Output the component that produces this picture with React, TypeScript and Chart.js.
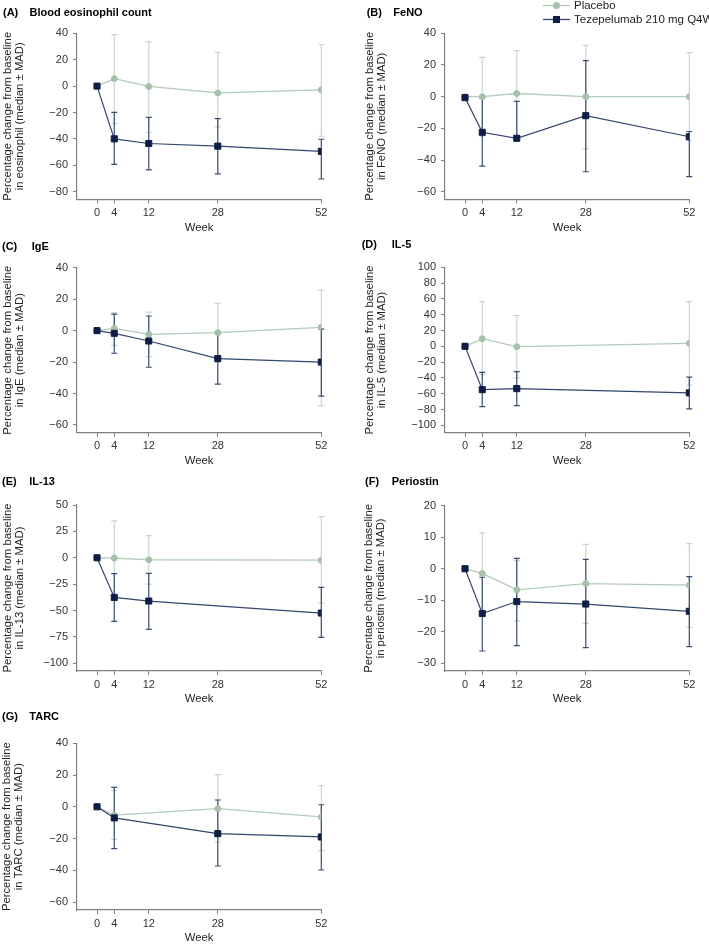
import React, { useEffect, useRef } from 'react';
import { Chart, registerables } from 'chart.js';

Chart.register(...registerables);

const FONT = '"Liberation Sans", Arial, Helvetica, sans-serif';

// ---------- Data ----------
const WEEKS = [0, 4, 12, 28, 52];
const WEEK_TICKS = [0, 4, 12, 28, 52];
const SERIES_NAMES = ['Placebo', 'Tezepelumab 210 mg Q4W'];

// (A) Blood eosinophil count
const eosPlacebo = [0, 5.6, -0.3, -5.2, -2.8];
const eosPlaceboLow = [null, -28.5, -35, -31, -38];
const eosPlaceboHigh = [null, 39, 33.5, 25.5, 31.5];
const eosTeze = [0, -40, -43.5, -45.5, -49.5];
const eosTezeLow = [null, -59.3, -63.5, -66.6, -70.4];
const eosTezeHigh = [null, -20, -23.7, -24.7, -40.3];
const eosTicks = [40, 20, 0, -20, -40, -60, -80];

// (B) FeNO
const fenoPlacebo = [0, 0, 2, 0, 0];
const fenoPlaceboLow = [null, -25, -25, -33, -27.8];
const fenoPlaceboHigh = [null, 24.8, 29, 32.4, 27.8];
const fenoTeze = [-0.6, -22.5, -26.3, -12, -25.3];
const fenoTezeLow = [null, -43.8, -27, -47.4, -50.5];
const fenoTezeHigh = [null, -1, -3, 22.7, -22];
const fenoTicks = [40, 20, 0, -20, -40, -60];

// (C) IgE
const igePlacebo = [0, 1.4, -2.4, -1.3, 2.1];
const igePlaceboLow = [null, -9.4, -16.5, -20, -47.7];
const igePlaceboHigh = [null, 11.4, 11.8, 17.3, 25.8];
const igeTeze = [0, -1.7, -6.6, -17.8, -20];
const igeTezeLow = [null, -14.4, -23.3, -34, -41.6];
const igeTezeHigh = [null, 10.5, 9.3, -2, 1];
const igeTicks = [40, 20, 0, -20, -40, -60];

// (D) IL-5 (no week 28 sample)
const il5Placebo = [0, 9.7, -0.5, null, 3.8];
const il5PlaceboLow = [null, -36, -40, null, -49];
const il5PlaceboHigh = [null, 56.5, 39, null, 56.5];
const il5Teze = [0, -54.9, -53.6, null, -59];
const il5TezeLow = [null, -76.4, -75, null, -79.3];
const il5TezeHigh = [null, -33, -32, null, -39];
const il5Ticks = [100, 80, 60, 40, 20, 0, -20, -40, -60, -80, -100];

// (E) IL-13 (no week 28 sample)
const il13Placebo = [0, -0.3, -1.9, null, -2.3];
const il13PlaceboLow = [null, -35, -25, null, -43];
const il13PlaceboHigh = [null, 35, 21, null, 39];
const il13Teze = [0, -37.6, -41, null, -52.4];
const il13TezeLow = [null, -60.3, -67.9, null, -75.4];
const il13TezeHigh = [null, -15, -14.8, null, -28];
const il13Ticks = [50, 25, 0, -25, -50, -75, -100];

// (F) Periostin
const perPlacebo = [0, -1.5, -6.7, -4.7, -5.2];
const perPlaceboLow = [null, -14.4, -16.6, -17.3, -18.6];
const perPlaceboHigh = [null, 11.4, 2.6, 7.7, 8];
const perTeze = [0, -14.2, -10.4, -11.2, -13.5];
const perTezeLow = [null, -26.1, -24.4, -25, -24.7];
const perTezeHigh = [null, -2.7, 3.3, 3, -2.5];
const perTicks = [20, 10, 0, -10, -20, -30];

// (G) TARC (no week 12 sample)
const tarcPlacebo = [0, -5.2, null, -1.2, -6.4];
const tarcPlaceboLow = [null, -20.5, null, -22.2, -27.6];
const tarcPlaceboHigh = [null, 10.3, null, 20.3, 13.4];
const tarcTeze = [0, -7, null, -16.9, -19];
const tarcTezeLow = [null, -26.4, null, -37.3, -39.8];
const tarcTezeHigh = [null, 12.3, null, 4.3, 1.3];
const tarcTicks = [40, 20, 0, -20, -40, -60];

// ---------- Styles ----------
const PLACEBO_COLOR = '#a6c1ab';
const PLACEBO_LINE = '#b3cbb7';
const PLACEBO_ERR = '#c6d7ca';
const TEZE_COLOR = '#0f1e45';
const TEZE_LINE = '#34466e';
const TEZE_ERR = '#3b4c72';
const AXIS_COLOR = '#808080';
const TICK_TEXT = '#333333';

type Panel = {
  letter: string;
  name: string;
  yTitle2: string;
  ticks: number[];
  yMin: number;
  yMax: number;
  placebo: (number | null)[];
  placeboLow: (number | null)[];
  placeboHigh: (number | null)[];
  teze: (number | null)[];
  tezeLow: (number | null)[];
  tezeHigh: (number | null)[];
  box: [number, number, number, number];
  area: [number, number, number, number];
  yTitleX: number;
  weekY: number;
  letterX: number;
  nameX: number;
  titleY: number;
  legend?: boolean;
};

const PANELS: Panel[] = [
  {
    letter: '(A)', name: 'Blood eosinophil count', yTitle2: 'in eosinophil (median ± MAD)',
    ticks: eosTicks, yMin: -85.8, yMax: 40,
    placebo: eosPlacebo, placeboLow: eosPlaceboLow, placeboHigh: eosPlaceboHigh,
    teze: eosTeze, tezeLow: eosTezeLow, tezeHigh: eosTezeHigh,
    box: [0, 0, 354, 240], area: [77, 33.3, 321.3, 199.3],
    yTitleX: 7.5, weekY: 228, letterX: 3, nameX: 29.5, titleY: 12.7,
  },
  {
    letter: '(B)', name: 'FeNO', yTitle2: 'in FeNO (median ± MAD)',
    ticks: fenoTicks, yMin: -64.8, yMax: 40,
    placebo: fenoPlacebo, placeboLow: fenoPlaceboLow, placeboHigh: fenoPlaceboHigh,
    teze: fenoTeze, tezeLow: fenoTezeLow, tezeHigh: fenoTezeHigh,
    box: [354, 0, 355, 240], area: [445, 33.3, 689.3, 199.3],
    yTitleX: 370, weekY: 228, letterX: 366.7, nameX: 393.3, titleY: 13.3, legend: true,
  },
  {
    letter: '(C)', name: 'IgE', yTitle2: 'in IgE (median ± MAD)',
    ticks: igeTicks, yMin: -64.9, yMax: 40,
    placebo: igePlacebo, placeboLow: igePlaceboLow, placeboHigh: igePlaceboHigh,
    teze: igeTeze, tezeLow: igeTezeLow, tezeHigh: igeTezeHigh,
    box: [0, 236, 354, 236], area: [77, 267.7, 321.3, 432.7],
    yTitleX: 7.5, weekY: 461, letterX: 2, nameX: 31.7, titleY: 246.7,
  },
  {
    letter: '(D)', name: 'IL-5', yTitle2: 'in IL-5 (median ± MAD)',
    ticks: il5Ticks, yMin: -109.4, yMax: 100,
    placebo: il5Placebo, placeboLow: il5PlaceboLow, placeboHigh: il5PlaceboHigh,
    teze: il5Teze, tezeLow: il5TezeLow, tezeHigh: il5TezeHigh,
    box: [354, 236, 355, 236], area: [445, 267.3, 689.3, 432.7],
    yTitleX: 370, weekY: 461, letterX: 361.7, nameX: 391.7, titleY: 245,
  },
  {
    letter: '(E)', name: 'IL-13', yTitle2: 'in IL-13 (median ± MAD)',
    ticks: il13Ticks, yMin: -107.3, yMax: 50,
    placebo: il13Placebo, placeboLow: il13PlaceboLow, placeboHigh: il13PlaceboHigh,
    teze: il13Teze, tezeLow: il13TezeLow, tezeHigh: il13TezeHigh,
    box: [0, 466, 354, 244], area: [77, 505, 321.3, 671],
    yTitleX: 7.5, weekY: 699, letterX: 2, nameX: 29.3, titleY: 481.7,
  },
  {
    letter: '(F)', name: 'Periostin', yTitle2: 'in periostin (median ± MAD)',
    ticks: perTicks, yMin: -32.44, yMax: 20,
    placebo: perPlacebo, placeboLow: perPlaceboLow, placeboHigh: perPlaceboHigh,
    teze: perTeze, tezeLow: perTezeLow, tezeHigh: perTezeHigh,
    box: [354, 466, 355, 244], area: [445, 505.7, 689.3, 671],
    yTitleX: 368.5, weekY: 699, letterX: 365, nameX: 391.7, titleY: 481.7,
  },
  {
    letter: '(G)', name: 'TARC', yTitle2: 'in TARC (median ± MAD)',
    ticks: tarcTicks, yMin: -65, yMax: 40,
    placebo: tarcPlacebo, placeboLow: tarcPlaceboLow, placeboHigh: tarcPlaceboHigh,
    teze: tarcTeze, tezeLow: tarcTezeLow, tezeHigh: tarcTezeHigh,
    box: [0, 703, 354, 243], area: [77, 743.3, 321.3, 910],
    yTitleX: 7, weekY: 938.3, letterX: 2, nameX: 29.3, titleY: 717.3,
  },
];

const fmt = (v: number) => (v < 0 ? '\u2212' + Math.abs(v) : String(v));

function buildPoints(med: (number | null)[], lo: (number | null)[], hi: (number | null)[]) {
  const pts: any[] = [];
  WEEKS.forEach((w, i) => {
    if (med[i] === null || med[i] === undefined) return;
    pts.push({ x: w, y: med[i], lo: lo[i], hi: hi[i] });
  });
  return pts;
}

const errorBarPlugin = {
  id: 'errorBars',
  beforeDatasetsDraw(chart: any) {
    const ctx = chart.ctx;
    const xs = chart.scales.x;
    const ys = chart.scales.y;
    const n = chart.data.datasets.length;
    for (let d = n - 1; d >= 0; d--) {
      const ds = chart.data.datasets[d];
      ctx.save();
      ctx.strokeStyle = ds.errColor;
      ctx.lineWidth = 1.2;
      ds.data.forEach((p: any) => {
        if (p.lo === null || p.lo === undefined || p.hi === null || p.hi === undefined) return;
        const x = xs.getPixelForValue(p.x);
        const y1 = ys.getPixelForValue(p.hi);
        const y2 = ys.getPixelForValue(p.lo);
        ctx.beginPath();
        ctx.moveTo(x, y1);
        ctx.lineTo(x, y2);
        ctx.moveTo(x - 3, y1);
        ctx.lineTo(x + 3, y1);
        ctx.moveTo(x - 3, y2);
        ctx.lineTo(x + 3, y2);
        ctx.stroke();
      });
      ctx.restore();
    }
  },
};

function PanelChart({ p }: { p: Panel }) {
  const ref = useRef<HTMLCanvasElement | null>(null);
  useEffect(() => {
    if (!ref.current) return;
    const [bx, by, bw, bh] = p.box;
    const [al, at, ar, ab] = p.area;
    const lh = 12;
    const decor = {
      id: 'decor',
      afterDraw(chart: any) {
        const ctx = chart.ctx;
        ctx.save();
        ctx.font = `bold 11px ${FONT}`;
        ctx.fillStyle = '#000';
        ctx.textBaseline = 'middle';
        ctx.textAlign = 'left';
        ctx.fillText(p.letter, p.letterX - bx, p.titleY - by);
        ctx.fillText(p.name, p.nameX - bx, p.titleY - by);
        if (p.legend) {
          const entries = [
            { y: 5.5, color: PLACEBO_COLOR, line: PLACEBO_LINE, shape: 'circle', label: SERIES_NAMES[0] },
            { y: 19.5, color: TEZE_COLOR, line: TEZE_LINE, shape: 'square', label: SERIES_NAMES[1] },
          ];
          entries.forEach((e) => {
            ctx.strokeStyle = e.line;
            ctx.lineWidth = 1.3;
            ctx.beginPath();
            ctx.moveTo(543 - bx, e.y);
            ctx.lineTo(570 - bx, e.y);
            ctx.stroke();
            ctx.fillStyle = e.color;
            if (e.shape === 'circle') {
              ctx.beginPath();
              ctx.arc(556.5 - bx, e.y, 3.5, 0, Math.PI * 2);
              ctx.fill();
            } else {
              ctx.fillRect(556.5 - bx - 3.5, e.y - 3.5, 7, 7);
            }
            ctx.fillStyle = '#222';
            ctx.font = `11.5px ${FONT}`;
            ctx.fillText(e.label, 574 - bx, e.y + 0.5);
          });
        }
        ctx.restore();
      },
    };
    const chart = new Chart(ref.current, {
      type: 'line',
      data: {
        datasets: [
          {
            label: SERIES_NAMES[1],
            data: buildPoints(p.teze, p.tezeLow, p.tezeHigh),
            borderColor: TEZE_LINE,
            backgroundColor: TEZE_COLOR,
            pointBackgroundColor: TEZE_COLOR,
            pointBorderColor: TEZE_COLOR,
            pointStyle: 'rect',
            pointRadius: 4.3,
            pointBorderWidth: 1,
            borderWidth: 1.2,
            tension: 0,
            errColor: TEZE_ERR,
          } as any,
          {
            label: SERIES_NAMES[0],
            data: buildPoints(p.placebo, p.placeboLow, p.placeboHigh),
            borderColor: PLACEBO_LINE,
            backgroundColor: PLACEBO_COLOR,
            pointBackgroundColor: PLACEBO_COLOR,
            pointBorderColor: PLACEBO_COLOR,
            pointStyle: 'circle',
            pointRadius: 3,
            pointBorderWidth: 1,
            borderWidth: 1.3,
            tension: 0,
            errColor: PLACEBO_ERR,
          } as any,
        ],
      },
      options: {
        animation: false,
        responsive: false,
        maintainAspectRatio: false,
        events: [],
        layout: { padding: { left: 0, top: at - by, right: bx + bw - ar, bottom: 0 } },
        plugins: { legend: { display: false }, tooltip: { enabled: false }, title: { display: false } },
        scales: {
          x: {
            type: 'linear',
            min: -4.64,
            max: 52,
            afterBuildTicks: (s: any) => {
              s.ticks = WEEK_TICKS.map((v) => ({ value: v }));
            },
            afterFit: (s: any) => {
              s.height = by + bh - ab;
            },
            grid: { display: true, drawOnChartArea: false, drawTicks: true, tickLength: 4, color: AXIS_COLOR, lineWidth: 1 },
            border: { display: true, color: AXIS_COLOR, width: 1.2 },
            ticks: {
              autoSkip: false,
              maxRotation: 0,
              padding: 3,
              color: TICK_TEXT,
              font: { size: 11, family: FONT },
              callback: (v: any) => fmt(Number(v)),
            },
            title: {
              display: true,
              text: 'Week',
              color: '#222',
              font: { size: 11.3, family: FONT, lineHeight: lh / 11.3 },
              padding: { top: 0, bottom: by + bh - p.weekY - lh / 2 },
            },
          },
          y: {
            type: 'linear',
            min: p.yMin,
            max: p.yMax,
            afterBuildTicks: (s: any) => {
              s.ticks = p.ticks.map((v) => ({ value: v }));
            },
            afterFit: (s: any) => {
              s.width = al - bx;
            },
            grid: { display: true, drawOnChartArea: false, drawTicks: true, tickLength: 4, color: AXIS_COLOR, lineWidth: 1 },
            border: { display: true, color: AXIS_COLOR, width: 1.2 },
            ticks: {
              autoSkip: false,
              padding: 5,
              color: TICK_TEXT,
              font: { size: 11, family: FONT },
              callback: (v: any) => fmt(Number(v)),
            },
            title: {
              display: true,
              text: ['Percentage change from baseline', p.yTitle2],
              color: '#222',
              font: { size: 11.3, family: FONT, lineHeight: lh / 11.3 },
              padding: { top: p.yTitleX - bx - lh / 2, bottom: 0 },
            },
          },
        },
      } as any,
      plugins: [errorBarPlugin, decor],
    });
    return () => chart.destroy();
  }, [p]);
  const [bx, by, bw, bh] = p.box;
  return (
    <canvas
      ref={ref}
      width={bw}
      height={bh}
      style={{ position: 'absolute', left: bx, top: by, width: bw, height: bh }}
    />
  );
}

export default function App() {
  return (
    <div
      style={{
        position: 'absolute',
        left: 0,
        top: 0,
        width: 709,
        height: 946,
        background: '#ffffff',
        overflow: 'hidden',
      }}
    >
      {PANELS.map((p) => (
        <PanelChart key={p.letter} p={p} />
      ))}
    </div>
  );
}
